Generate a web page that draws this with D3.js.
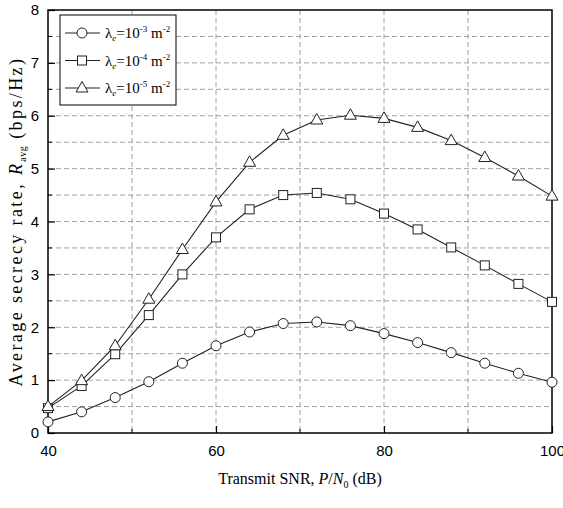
<!DOCTYPE html>
<html>
<head>
<meta charset="utf-8">
<script src="https://cdn.jsdelivr.net/npm/d3@7"></script>
<style>
  body { margin: 0; background: #fff; }
  .tick text { font-family: "Liberation Sans", Arial, sans-serif; font-size: 15px; fill: #000; }
  .serif { font-family: "Liberation Serif", "Times New Roman", serif; fill: #000; }
</style>
</head>
<body>
<div class="canvas"></div>
<script>
const snr = [40, 44, 48, 52, 56, 60, 64, 68, 72, 76, 80, 84, 88, 92, 96, 100];
const rateE3 = [0.21, 0.40, 0.67, 0.97, 1.32, 1.65, 1.91, 2.07, 2.10, 2.03, 1.88, 1.71, 1.52, 1.32, 1.13, 0.96];
const rateE4 = [0.47, 0.89, 1.49, 2.23, 3.00, 3.70, 4.23, 4.50, 4.54, 4.42, 4.15, 3.85, 3.51, 3.17, 2.82, 2.48];
const rateE5 = [0.50, 0.99, 1.65, 2.53, 3.47, 4.37, 5.12, 5.63, 5.92, 6.01, 5.95, 5.78, 5.53, 5.21, 4.86, 4.48];
const xTicks = [40, 60, 80, 100];
const yTicks = [0, 1, 2, 3, 4, 5, 6, 7, 8];
const legendExp = ['-3', '-4', '-5'];

const width = 563;
const height = 508;
const margin = {left: 48, right: 11, top: 10, bottom: 75};
const graphWidth = width - margin.left - margin.right;
const graphHeight = height - margin.top - margin.bottom;

const svg = d3.select('.canvas')
    .append('svg')
    .attr('width', width)
    .attr('height', height);

const graph = svg.append('g')
    .attr('transform', `translate(${margin.left}, ${margin.top})`);

const x = d3.scaleLinear().domain([40, 100]).range([0, graphWidth]);
const y = d3.scaleLinear().domain([0, 8]).range([graphHeight, 0]);

////////// GRID ///////////////////
graph.append('g')
    .selectAll('line')
    .data(d3.range(50, 100, 10))
    .enter().append('line')
    .attr('x1', d => x(d)).attr('x2', d => x(d))
    .attr('y1', 0).attr('y2', graphHeight)
    .attr('stroke', '#a0a0a0')
    .attr('stroke-width', 1)
    .attr('stroke-dasharray', '5,3');

graph.append('g')
    .selectAll('line')
    .data(d3.range(0.5, 8, 0.5))
    .enter().append('line')
    .attr('x1', 0).attr('x2', graphWidth)
    .attr('y1', d => y(d)).attr('y2', d => y(d))
    .attr('stroke', '#a0a0a0')
    .attr('stroke-width', 1)
    .attr('stroke-dasharray', '5,3');

////////// AXES ///////////////////
const xAxis = d3.axisBottom(x).tickValues(xTicks).tickSizeInner(-7).tickSizeOuter(0).tickPadding(12);
const yAxis = d3.axisLeft(y).tickValues(yTicks).tickSizeInner(-7).tickSizeOuter(0).tickPadding(9);

const gX = graph.append('g').attr('transform', `translate(0, ${graphHeight})`).call(xAxis);
const gY = graph.append('g').call(yAxis);
[gX, gY].forEach(g => {
    g.select('.domain').remove();
    g.selectAll('.tick line').attr('stroke', '#000').attr('stroke-width', 1.2);
});

// minor ticks
graph.append('g')
    .selectAll('line')
    .data([50, 70, 90])
    .enter().append('line')
    .attr('x1', d => x(d)).attr('x2', d => x(d))
    .attr('y1', graphHeight).attr('y2', graphHeight - 4)
    .attr('stroke', '#000');

graph.append('g')
    .selectAll('line')
    .data(d3.range(0.5, 8, 1))
    .enter().append('line')
    .attr('x1', 0).attr('x2', 4)
    .attr('y1', d => y(d)).attr('y2', d => y(d))
    .attr('stroke', '#000');

graph.append('rect')
    .attr('width', graphWidth)
    .attr('height', graphHeight)
    .attr('fill', 'none')
    .attr('stroke', '#000')
    .attr('stroke-width', 1.5);

////////// SERIES ///////////////////
const series = [
    {values: rateE3, shape: 'circle'},
    {values: rateE4, shape: 'square'},
    {values: rateE5, shape: 'triangle'}
];

const line = d3.line().x(d => x(d[0])).y(d => y(d[1]));

function drawMarker(g, shape) {
    if (shape === 'circle') {
        g.append('circle').attr('r', 5);
    } else if (shape === 'square') {
        g.append('rect').attr('x', -4.5).attr('y', -4.5).attr('width', 9).attr('height', 9);
    } else {
        g.append('path').attr('d', 'M0,-6.5L6,4L-6,4Z');
    }
    g.selectAll('*').attr('fill', '#fff').attr('stroke', '#222').attr('stroke-width', 1);
}

series.forEach(s => {
    const pts = snr.map((v, i) => [v, s.values[i]]);
    graph.append('path')
        .datum(pts)
        .attr('d', line)
        .attr('fill', 'none')
        .attr('stroke', '#222')
        .attr('stroke-width', 1.1);
    graph.append('g')
        .selectAll('g')
        .data(pts)
        .enter().append('g')
        .attr('transform', d => `translate(${x(d[0])}, ${y(d[1])})`)
        .each(function() { drawMarker(d3.select(this), s.shape); });
});

////////// LEGEND ///////////////////
const legend = svg.append('g').attr('transform', 'translate(60, 15)');
legend.append('rect')
    .attr('width', 116).attr('height', 90)
    .attr('fill', '#fff').attr('stroke', '#000').attr('stroke-width', 1);

series.forEach((s, i) => {
    const row = legend.append('g').attr('transform', `translate(0, ${18 + i * 27.5})`);
    row.append('line').attr('x1', 5).attr('x2', 40).attr('stroke', '#222').attr('stroke-width', 1.1);
    drawMarker(row.append('g').attr('transform', 'translate(22, 0)'), s.shape);
    const t = row.append('text').attr('class', 'serif').attr('x', 45).attr('y', 5).attr('font-size', 15);
    t.append('tspan').text('λ');
    t.append('tspan').attr('font-size', 9).attr('font-style', 'italic').attr('dy', 3).text('e');
    t.append('tspan').attr('dy', -3).text('=10');
    t.append('tspan').attr('font-size', 9).attr('dy', -6).text(legendExp[i]);
    t.append('tspan').attr('dy', 6).text(' m');
    t.append('tspan').attr('font-size', 9).attr('dy', -6).text('-2');
});

////////// TITLES ///////////////////
const xt = svg.append('text').attr('class', 'serif')
    .attr('x', margin.left + graphWidth / 2).attr('y', 484)
    .attr('text-anchor', 'middle').attr('font-size', 16);
xt.append('tspan').text('Transmit SNR, ');
xt.append('tspan').attr('font-style', 'italic').text('P');
xt.append('tspan').text('/');
xt.append('tspan').attr('font-style', 'italic').text('N');
xt.append('tspan').attr('font-size', 10).attr('dy', 4).text('0');
xt.append('tspan').attr('dy', -4).text(' (dB)');

const yt = svg.append('text').attr('class', 'serif')
    .attr('transform', `translate(22, ${margin.top + graphHeight / 2}) rotate(-90)`)
    .attr('text-anchor', 'middle').attr('font-size', 18)
    .attr('letter-spacing', 2.4);
yt.append('tspan').text('Average secrecy rate, ');
yt.append('tspan').attr('font-style', 'italic').text('R');
yt.append('tspan').attr('font-size', 10).attr('dy', 4).attr('letter-spacing', 0.5).text('avg');
yt.append('tspan').attr('dy', -4).text(' (bps/Hz)');
</script>
</body>
</html>
